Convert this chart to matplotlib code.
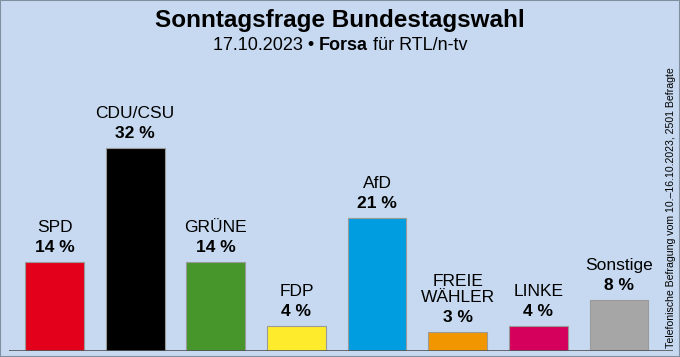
import matplotlib.pyplot as plt
from matplotlib.patches import Rectangle

parties = ['SPD', 'CDU/CSU', 'GRÜNE', 'FDP', 'AfD', 'FREIE\nWÄHLER', 'LINKE', 'Sonstige']
values = [14, 32, 14, 4, 21, 3, 4, 8]
colors = ['#e2001a', '#000000', '#46962b', '#fdeb2c', '#009ee0', '#f29600', '#d4005c', '#a6a6a6']

bg = '#c6d9f0'
plt.rcParams['font.family'] = ['Liberation Sans', 'DejaVu Sans']

fig = plt.figure(figsize=(6.8, 3.57), dpi=100)
fig.patch.set_facecolor(bg)

W, H = 680, 357
# axes in pixel terms: baseline y=351, x 9..673
ppu = 80.64
left_px, right_px = 9, 673
x0 = -(54.5 - left_px) / ppu
x1 = (right_px - 54.5) / ppu
ymax = 40
ax_h = ymax * 6.34
ax = fig.add_axes([left_px / W, (H - 351) / H, (right_px - left_px) / W, ax_h / H])
ax.set_facecolor('none')
ax.set_xlim(x0, x1)
ax.set_ylim(0, ymax)
ax.axis('off')

xs = range(len(parties))
ax.bar(xs, values, width=0.73, color=colors, edgecolor='#9a9a9a', linewidth=0.8, zorder=2)
ax.axhline(0, color='#555555', linewidth=1.2, zorder=3)

for x, v, name in zip(xs, values, parties):
    ax.annotate(f'{v} %', (x, v), xytext=(0, 5), textcoords='offset points',
                ha='center', va='bottom', fontsize=12.5, fontweight='bold')
    ax.annotate(name, (x, v), xytext=(0, 19.5), textcoords='offset points',
                ha='center', va='bottom', fontsize=12.5, linespacing=1.1)

fig.text(0.5, 1 - 20 / H, 'Sonntagsfrage Bundestagswahl', ha='center', va='center',
         fontsize=17.5, fontweight='bold')

# subtitle with bold institute name
r = fig.canvas.get_renderer()
sub = [('17.10.2023 •', 'normal'), ('Forsa', 'bold'), ('für RTL/n-tv', 'normal')]
sub_y = 1 - 46 / H
pieces = [fig.text(0, sub_y, s, fontsize=13, fontweight=w, va='center', ha='left') for s, w in sub]
t1 = fig.text(0, 0, 'a a', fontsize=13)
t2 = fig.text(0, 0, 'aa', fontsize=13)
gap = t1.get_window_extent(r).width - t2.get_window_extent(r).width
t1.remove()
t2.remove()
widths = [p.get_window_extent(r).width for p in pieces]
total = sum(widths) + gap * (len(pieces) - 1)
xpos = W / 2 - total / 2
for p, w in zip(pieces, widths):
    p.set_x(xpos / W)
    xpos += w + gap

fig.text(671 / W, 9 / H, 'Telefonische Befragung vom 10.–16.10.2023, 2501 Befragte',
         rotation=90, ha='center', va='bottom', fontsize=7.6)

fig.patches.append(Rectangle((0, 0), 1, 1, transform=fig.transFigure, fill=False,
                             edgecolor='#8090a0', linewidth=1.5))

fig.savefig('out.png', dpi=100, facecolor=bg)
